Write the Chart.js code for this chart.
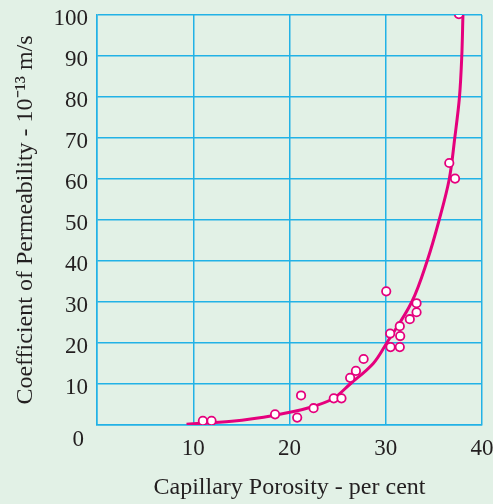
<!DOCTYPE html>
<html><head><meta charset="utf-8">
<script src="https://cdn.jsdelivr.net/npm/chart.js@4/dist/chart.umd.min.js"></script>
<style>html,body{margin:0;padding:0;background:#E2F1E6;}canvas{display:block;}</style>
</head><body>
<canvas id="c" width="493" height="504"></canvas>
<script>
// Observed data points (capillary porosity %, permeability 1e-13 m/s)
const pointX = [11.0, 11.9, 18.5, 20.8, 21.2, 22.5, 24.6, 25.4, 26.3, 26.9, 27.7, 30.05, 30.46, 30.5, 31.46, 31.5, 31.46, 32.5, 33.2, 33.2, 36.6, 37.2, 37.6];
const pointY = [1.0, 1.0, 2.6, 1.8, 7.2, 4.1, 6.5, 6.5, 11.5, 13.2, 16.1, 32.6, 22.3, 19.0, 24.1, 21.7, 19.0, 25.8, 29.7, 27.5, 63.9, 60.1, 100.2];
// Fitted curve
const curveX = [9.3, 14.0, 18.5, 22.0, 24.5, 26.3, 28.7, 30.1, 32.7, 34.3, 35.55, 36.6, 37.17, 37.66, 37.9, 38.02];
const curveY = [0.2, 0.9, 2.4, 4.2, 6.4, 10.0, 15.0, 20.0, 30.0, 40.0, 50.0, 60.0, 70.0, 80.0, 90.0, 100];
const xTicks = [10, 20, 30, 40];
const yTicks = [0, 10, 20, 30, 40, 50, 60, 70, 80, 90, 100];
const xTitle = 'Capillary Porosity - per cent';
const yTitle = 'Coefficient of Permeability - 10\u207B\u00B9\u00B3 m/s';

const MAG = '#E5007D';
const GRID = '#22B2E6';
const TXT = '#231F20';
const FONT = 'Liberation Serif';
const TICK_SIZE = 23;
const TITLE_SIZE = 24;

const bgPlugin = {
  id: 'bg',
  beforeDraw(chart) {
    const ctx = chart.ctx;
    ctx.save();
    ctx.fillStyle = '#E2F1E6';
    ctx.fillRect(0, 0, chart.width, chart.height);
    ctx.restore();
  },
  afterDraw(chart) {
    // origin "0" label, set lower than the other tick labels as in the reference
    const y = chart.scales.y, ctx = chart.ctx;
    ctx.save();
    ctx.fillStyle = TXT;
    ctx.font = TICK_SIZE + 'px "' + FONT + '"';
    ctx.textAlign = 'right';
    ctx.textBaseline = 'middle';
    ctx.fillText(String(yTicks[0]), y.right - 13, y.getPixelForValue(yTicks[0]) + 15);
    ctx.restore();
  }
};

new Chart(document.getElementById('c'), {
  type: 'scatter',
  data: {
    datasets: [
      {
        type: 'line',
        data: curveX.map((x, i) => ({x, y: curveY[i]})),
        borderColor: MAG,
        borderWidth: 3,
        pointRadius: 0,
        tension: 0.35,
        fill: false,
        order: 2
      },
      {
        data: pointX.map((x, i) => ({x, y: pointY[i]})),
        backgroundColor: '#FFFFFF',
        borderColor: MAG,
        borderWidth: 1.8,
        pointRadius: 4.2,
        order: 1
      }
    ]
  },
  options: {
    responsive: false,
    animation: false,
    layout: { padding: { left: 0, top: 15, right: 11, bottom: 0 } },
    plugins: { legend: { display: false }, tooltip: { enabled: false } },
    scales: {
      x: {
        type: 'linear', min: 0, max: 40,
        afterBuildTicks(s) { s.ticks = [0].concat(xTicks).map(v => ({value: v})); },
        afterFit(s) { s.height = 79; s.paddingLeft = 0; s.paddingRight = 0; },
        grid: { color: GRID, lineWidth: 1.5, drawTicks: false },
        border: { color: GRID, width: 1.5 },
        ticks: {
          color: TXT, font: { family: FONT, size: TICK_SIZE }, padding: 10,
          maxRotation: 0, autoSkip: false,
          callback: v => (v === 0 ? '' : String(v))
        },
        title: { display: true, text: xTitle, color: TXT, font: { family: FONT, size: TITLE_SIZE }, padding: { top: 0, bottom: 2 } }
      },
      y: {
        type: 'linear', min: 0, max: 100,
        afterBuildTicks(s) { s.ticks = yTicks.map(v => ({value: v})); },
        afterFit(s) { s.width = 97; s.paddingTop = 0; s.paddingBottom = 0; },
        grid: { color: GRID, lineWidth: 1.5, drawTicks: false },
        border: { color: GRID, width: 1.5 },
        ticks: {
          color: TXT, font: { family: FONT, size: TICK_SIZE }, padding: 9, labelOffset: 4,
          autoSkip: false,
          callback: v => (v === 0 ? '' : String(v))
        },
        title: { display: true, text: yTitle, color: TXT, font: { family: FONT, size: TITLE_SIZE }, padding: { top: 11, bottom: 0 } }
      }
    }
  },
  plugins: [bgPlugin]
});
</script>
</body></html>
